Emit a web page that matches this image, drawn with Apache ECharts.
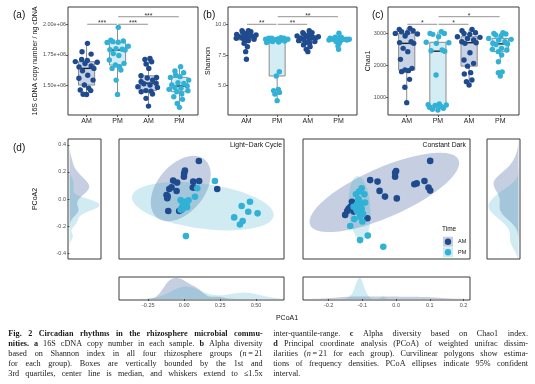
<!DOCTYPE html>
<html><head><meta charset="utf-8">
<script src="https://cdn.jsdelivr.net/npm/echarts@6/dist/echarts.min.js"></script>
<style>html,body{margin:0;padding:0;background:#fff}#c{width:535px;height:384px}</style>
</head><body><div id="c"></div>
<script>
// ---------------- DATA ----------------
const groupLabels = ['AM', 'PM', 'AM', 'PM'];
const conditionLabels = ['Light\u2212Dark Cycle', 'Constant Dark'];
const timeLevels = ['AM', 'PM'];

// (a) 16S cDNA copy number / ng cDNA
const copyAM_LD = [1.843e6,1.775e6,1.756e6,1.712e6,1.705e6,1.695e6,1.690e6,1.680e6,1.660e6,1.652e6,1.640e6,1.620e6,1.585e6,1.560e6,1.545e6,1.505e6,1.480e6,1.465e6,1.460e6,1.430e6,1.428e6];
const copyPM_LD = [1.973e6,1.868e6,1.862e6,1.857e6,1.852e6,1.850e6,1.820e6,1.800e6,1.795e6,1.792e6,1.789e6,1.760e6,1.745e6,1.708e6,1.681e6,1.667e6,1.654e6,1.640e6,1.627e6,1.545e6,1.429e6];
const copyAM_CD = [1.721e6,1.713e6,1.694e6,1.675e6,1.640e6,1.580e6,1.567e6,1.562e6,1.545e6,1.532e6,1.520e6,1.515e6,1.505e6,1.491e6,1.486e6,1.460e6,1.455e6,1.451e6,1.432e6,1.397e6,1.334e6];
const copyPM_CD = [1.654e6,1.619e6,1.605e6,1.586e6,1.573e6,1.567e6,1.545e6,1.524e6,1.518e6,1.505e6,1.497e6,1.486e6,1.478e6,1.470e6,1.459e6,1.451e6,1.432e6,1.410e6,1.389e6,1.356e6,1.324e6];
const copyTicks = [1.5e6, 1.75e6, 2.0e6];
const copySig = [[1,2,'***',1.998e6],[2,3,'***',1.998e6],[2,4,'***',2.059e6]];

// (b) Shannon
const shannonAM_LD = [9.48,9.48,9.40,9.35,9.27,9.18,9.13,9.08,9.05,8.99,8.94,8.90,8.86,8.86,8.78,8.72,8.67,8.45,8.18,7.77,7.15];
const shannonPM_LD = [8.91,8.86,8.86,8.86,8.80,8.78,8.78,8.75,8.72,8.67,8.64,8.59,8.55,8.51,6.14,5.79,4.70,4.60,4.45,4.32,3.78];
const shannonAM_CD = [9.48,9.32,9.32,9.21,9.13,9.05,8.99,8.99,8.94,8.86,8.86,8.78,8.72,8.67,8.59,8.51,8.45,8.32,8.18,7.96,7.77];
const shannonPM_CD = [9.27,8.94,8.94,8.86,8.86,8.86,8.78,8.78,8.78,8.78,8.78,8.78,8.72,8.72,8.72,8.67,8.67,8.59,8.45,8.23,7.96];
const shannonTicks = [5.0, 7.5, 10.0];
const shannonSig = [[1,2,'**',10.0],[2,3,'**',10.0],[2,4,'**',10.62]];

// (c) Chao1
const chaoAM_LD = [3168,3136,3094,3063,3031,3010,2990,2927,2749,2720,2696,2539,2435,2194,1911,1859,1838,1806,1565,1314,832];
const chaoPM_LD = [3063,3010,3010,2979,2906,2730,2717,2696,2487,2466,2450,1702,791,770,759,740,720,686,654,623,600];
const chaoAM_CD = [3136,3094,3031,3010,2979,2906,2885,2853,2801,2749,2717,2696,2403,2173,2068,1980,1775,1733,1545,1492,1387];
const chaoPM_CD = [3031,3010,2990,2958,2927,2853,2822,2801,2749,2700,2680,2660,2539,2508,2487,2435,2330,2120,1800,1775,1670];
const chaoTicks = [1000, 2000, 3000];
const chaoSig = [[1,2,'*',3296],[2,3,'*',3296],[2,4,'*',3535]];

// (d) PCoA (weighted unifrac)
const ldAM_pc1 = [0.102,0.005,-0.002,-0.077,-0.049,0.063,0.104,-0.088,-0.104,-0.053,0.068,-0.123,-0.118,0.230,-0.111,-0.035,-0.018,-0.115,-0.020,0.000,0.060];
const ldAM_pc2 = [0.281,0.210,0.165,0.136,0.121,0.128,0.133,0.086,0.074,0.059,0.084,0.030,0.005,0.074,-0.089,-0.089,-0.074,0.020,-0.080,0.190,0.085];
const ldPM_pc1 = [0.214,0.091,0.075,-0.025,-0.007,0.005,-0.011,-0.025,0.017,0.458,0.400,0.446,0.511,0.348,0.407,0.388,0.012,0.000,0.020,-0.010,0.030];
const ldPM_pc2 = [0.133,0.079,0.017,-0.007,-0.032,-0.057,-0.074,-0.080,-0.044,-0.020,-0.052,-0.094,-0.106,-0.136,-0.163,-0.188,-0.274,-0.020,-0.060,-0.045,-0.010];
const cdAM_pc1 = [0.101,0.000,-0.003,-0.077,-0.055,0.054,0.061,0.084,0.096,0.101,-0.049,-0.033,0.002,-0.131,-0.141,-0.151,-0.085,-0.136,-0.126,-0.003,-0.145];
const cdAM_pc2 = [0.127,0.093,0.074,0.063,0.058,0.049,0.052,0.060,0.038,0.028,0.027,0.008,0.002,-0.009,-0.033,-0.053,-0.064,-0.027,-0.042,0.087,-0.040];
const cdPM_pc1 = [-0.102,-0.119,-0.094,-0.112,-0.092,-0.126,-0.102,-0.115,-0.107,-0.124,-0.136,-0.084,-0.107,-0.038,-0.116,-0.110,-0.105,-0.118,-0.098,-0.110,-0.100];
const cdPM_pc2 = [0.036,0.016,0.016,0.000,-0.012,-0.026,-0.033,-0.042,-0.059,-0.067,-0.090,-0.122,-0.137,-0.159,-0.018,-0.005,-0.020,-0.035,-0.050,0.025,-0.075];
const pc2TicksLD = [-0.4,-0.2,0,0.2,0.4];
const pc1TicksLD = [-0.25,0,0.25,0.5];
const pc1TicksCD = [-0.2,-0.1,0,0.1,0.2];

const captionLeft = [
  "**Fig. 2 Circadian rhythms in the rhizosphere microbial commu-**",
  "**nities. a** 16S cDNA copy number in each sample. **b** Alpha diversity",
  "based on Shannon index in all four rhizosphere groups (_n_\u2009=\u200921",
  "for each group). Boxes are vertically bounded by the 1st and",
  "3rd quartiles, center line is median, and whiskers extend to \u22641.5x"
];
const captionRight = [
  "inter-quantile-range. **c** Alpha diversity based on Chao1 index.",
  "**d** Principal coordinate analysis (PCoA) of weighted unifrac dissim-",
  "ilarities (_n_\u2009=\u200921 for each group). Curvilinear polygons show estima-",
  "tions of frequency densities. PCoA ellipses indicate 95% confident",
  "interval."
];

// ---------------- STYLE / LAYOUT ----------------
const FONT = 'Liberation Sans';
const SERIF = 'Liberation Serif';
const COL = {AM:'#1f4b8e', PM:'#31b1d6'};
const BOXFILL = {AM:'#c9d3e6', PM:'#d4ecf3'};
const AREA = {AM:'rgba(30,70,140,0.26)', PM:'rgba(60,170,200,0.24)'};
const G = {
  a:{left:68,top:7,width:130,height:108},
  b:{left:228,top:7,width:129,height:108},
  c:{left:388,top:7,width:131,height:108},
  dl:{left:68,top:139,width:33,height:120},
  sld:{left:119,top:139,width:165,height:120},
  scd:{left:303,top:139,width:167,height:120},
  dr:{left:487,top:139,width:33,height:120},
  bld:{left:119,top:277,width:165,height:23},
  bcd:{left:303,top:277,width:167,height:23}
};
const RANGE = {
  a:[1.262e6,2.138e6], b:[2.61,11.41], c:[443,3840],
  ldx:[-0.454,0.695], ldy:[-0.443,0.443], cdx:[-0.276,0.219], cdy:[-0.2,0.2]
};

// ---------------- HELPERS ----------------
const mean = a => a.reduce((s,v)=>s+v,0)/a.length;
function q7(a,p){const s=[...a].sort((x,y)=>x-y);const h=(s.length-1)*p;const lo=Math.floor(h);const hi=Math.min(lo+1,s.length-1);return s[lo]+(h-lo)*(s[hi]-s[lo]);}
function boxStats(a){const q1=q7(a,.25),md=q7(a,.5),q3=q7(a,.75),iqr=q3-q1;
  const lo=Math.min(...a.filter(v=>v>=q1-1.5*iqr)),hi=Math.max(...a.filter(v=>v<=q3+1.5*iqr));return [lo,q1,md,q3,hi];}
function sd(a){const m=mean(a);return Math.sqrt(a.reduce((s,v)=>s+(v-m)**2,0)/(a.length-1));}
function bwNrd0(a){const h=sd(a);let lo=Math.min(h,(q7(a,.75)-q7(a,.25))/1.34);if(!(lo>0))lo=h||1;return 0.9*lo*Math.pow(a.length,-0.2);}
function kdeAt(a,bw,x){let s=0;for(const v of a){const z=(x-v)/bw;s+=Math.exp(-0.5*z*z);}return s/(a.length*bw*Math.sqrt(2*Math.PI));}
function kde(a,from,to,n){const bw=bwNrd0(a);const out=[];for(let i=0;i<n;i++){const x=from+(to-from)*i/(n-1);out.push([x,kdeAt(a,bw,x)]);}return out;}
function covTrob(xs,ys,nu=5,maxit=25,tol=0.01){
  const n=xs.length,p=2;let lx=mean(xs),ly=mean(ys);let w=new Array(n).fill(1);let X=null;
  for(let it=0;it<maxit;it++){
    const w0=w.slice();X=xs.map((x,i)=>[x-lx,ys[i]-ly]);
    const sw=w.reduce((s,v)=>s+v,0);let a=0,b=0,d=0;
    for(let i=0;i<n;i++){const f=w[i]/sw;a+=f*X[i][0]*X[i][0];b+=f*X[i][0]*X[i][1];d+=f*X[i][1]*X[i][1];}
    const det=a*d-b*b;
    w=X.map(([u,v])=>(nu+p)/(nu+(d*u*u-2*b*u*v+a*v*v)/det));
    const sw2=w.reduce((s,v)=>s+v,0);
    lx=xs.reduce((s,v,i)=>s+w[i]*v,0)/sw2;ly=ys.reduce((s,v,i)=>s+w[i]*v,0)/sw2;
    if(w.every((v,i)=>Math.abs(v-w0[i])<tol))break;
  }
  let a=0,b=0,d=0;for(let i=0;i<n;i++){a+=w[i]*X[i][0]*X[i][0];b+=w[i]*X[i][0]*X[i][1];d+=w[i]*X[i][1]*X[i][1];}
  return {c:[lx,ly],cov:[a/n,b/n,d/n]};
}
function ellipse95(xs,ys){
  const {c,cov:[a,b,d]}=covTrob(xs,ys);const n=xs.length,m=n-1;
  const f=(m/2)*(Math.pow(0.05,-2/m)-1); // qf(0.95, 2, m)
  const r=Math.sqrt(2*f);const r11=Math.sqrt(a),r12=b/r11,r22=Math.sqrt(Math.max(d-r12*r12,1e-12));
  const pts=[];for(let k=0;k<=51;k++){const t=2*Math.PI*k/51;pts.push([c[0]+r*Math.cos(t)*r11,c[1]+r*(Math.cos(t)*r12+Math.sin(t)*r22)]);}
  return pts;
}
// quasirandom (van der Corput) offsets, as geom_quasirandom
function vdc(n){const out=[];for(let i=1;i<=n;i++){let x=0,f=0.5,k=i;while(k>0){x+=f*(k%2);k=Math.floor(k/2);f/=2;}out.push(x);}return out;}
function quasirandom(vals,width){
  const n=vals.length,bw=bwNrd0(vals);
  const lo=Math.min(...vals)-3*bw,hi=Math.max(...vals)+3*bw;let M=0;
  for(let i=0;i<512;i++){M=Math.max(M,kdeAt(vals,bw,lo+(hi-lo)*i/511));}
  const order=vals.map((v,i)=>i).sort((i,j)=>vals[i]-vals[j]||i-j);const rank=new Array(n);order.forEach((idx,r)=>rank[idx]=r);
  const seq=vdc(n);
  return vals.map((v,i)=>(seq[rank[i]]-0.5)*2*width*kdeAt(vals,bw,v)/M);
}

// ---------------- BUILD ----------------
const grids=[G.a,G.b,G.c,G.dl,G.sld,G.scd,G.dr,G.bld,G.bcd].map(g=>Object.assign({show:true,borderColor:'#3a3a3a',borderWidth:1,backgroundColor:'transparent'},g));
const xAxis=[],yAxis=[],series=[];
const tickStyle={show:true,length:2,lineStyle:{color:'#333',width:0.8}};
const labStyle={fontSize:5.5,color:'#4d4d4d',margin:2,fontFamily:FONT};
function axis(gi,min,max,ticks,fmt,extra){
  const o={type:'value',gridIndex:gi,min,max,axisLine:{show:false},splitLine:{show:false},
    axisTick:ticks?Object.assign({customValues:ticks},tickStyle):{show:false},
    axisLabel:ticks?Object.assign({show:true,customValues:ticks,formatter:fmt},labStyle):{show:false}};
  return Object.assign(o,extra||{});
}

const boxPanels=[
  {gi:0,key:'a',groups:[copyAM_LD,copyPM_LD,copyAM_CD,copyPM_CD],ticks:copyTicks,fmt:v=>(v/1e6).toFixed(2)+'e+06',sig:copySig},
  {gi:1,key:'b',groups:[shannonAM_LD,shannonPM_LD,shannonAM_CD,shannonPM_CD],ticks:shannonTicks,fmt:v=>v.toFixed(1),sig:shannonSig},
  {gi:2,key:'c',groups:[chaoAM_LD,chaoPM_LD,chaoAM_CD,chaoPM_CD],ticks:chaoTicks,fmt:v=>String(v),sig:chaoSig}
];
boxPanels.forEach(P=>{
  const yr=RANGE[P.key];
  xAxis[P.gi]=axis(P.gi,0.4,4.6,[1,2,3,4],v=>groupLabels[Math.round(v)-1]);
  xAxis[P.gi].axisLabel=Object.assign({},xAxis[P.gi].axisLabel,{fontSize:7,color:'#222',margin:3});
  yAxis[P.gi]=axis(P.gi,yr[0],yr[1],P.ticks,P.fmt);
  const stats=P.groups.map(boxStats);
  series.push({type:'custom',xAxisIndex:P.gi,yAxisIndex:P.gi,silent:true,
    data:stats.map((s,i)=>[i+1].concat(s)),
    renderItem(params,api){
      const x=api.value(0),lab=groupLabels[params.dataIndex];
      const pLo=api.coord([x,api.value(1)]),pQ1=api.coord([x,api.value(2)]),pMd=api.coord([x,api.value(3)]),pQ3=api.coord([x,api.value(4)]),pHi=api.coord([x,api.value(5)]);
      const half=api.size([0.26,0])[0];
      const st={stroke:'#8c8c8c',lineWidth:1};
      return {type:'group',children:[
        {type:'line',shape:{x1:pLo[0],y1:pLo[1],x2:pQ1[0],y2:pQ1[1]},style:st},
        {type:'line',shape:{x1:pQ3[0],y1:pQ3[1],x2:pHi[0],y2:pHi[1]},style:st},
        {type:'rect',shape:{x:pMd[0]-half,y:pQ3[1],width:2*half,height:pQ1[1]-pQ3[1]},style:{fill:BOXFILL[lab],stroke:'#8c8c8c',lineWidth:1}},
        {type:'line',shape:{x1:pMd[0]-half,y1:pMd[1],x2:pMd[0]+half,y2:pMd[1]},style:{stroke:'#222',lineWidth:1.4}}
      ]};
    }});
  P.groups.forEach((vals,i)=>{
    const off=quasirandom(vals,0.4);
    series.push({type:'scatter',xAxisIndex:P.gi,yAxisIndex:P.gi,silent:true,symbolSize:5.4,
      itemStyle:{color:COL[groupLabels[i]],opacity:1},
      data:vals.map((v,k)=>[i+1+off[k],v])});
  });
  series.push({type:'custom',xAxisIndex:P.gi,yAxisIndex:P.gi,silent:true,
    data:P.sig.map(s=>[s[0],s[3]]),
    renderItem(params,api){const s=P.sig[params.dataIndex];
      const p1=api.coord([s[0]+0.02,s[3]]),p2=api.coord([s[1]-0.02,s[3]]);
      return {type:'group',children:[
        {type:'line',shape:{x1:p1[0],y1:p1[1],x2:p2[0],y2:p2[1]},style:{stroke:'#777',lineWidth:0.8}},
        {type:'text',x:(p1[0]+p2[0])/2,y:p1[1]-0.8,style:{text:s[2],fontSize:7,fontFamily:FONT,fill:'#333',align:'center',verticalAlign:'middle'}}]};
    }});
});
// condition label axes
[0,1,2].forEach(gi=>{
  xAxis.push({type:'value',gridIndex:gi,min:0.4,max:4.6,position:'bottom',offset:10,axisLine:{show:false},axisTick:{show:false},splitLine:{show:false},
    axisLabel:{show:true,customValues:[1.5,3.5],formatter:v=>conditionLabels[v<2?0:1],fontSize:7,color:'#222',margin:3,fontFamily:FONT}});
});

// PCoA panels
const pcoa=[
  {gi:4,AM:[ldAM_pc1,ldAM_pc2],PM:[ldPM_pc1,ldPM_pc2]},
  {gi:5,AM:[cdAM_pc1,cdAM_pc2],PM:[cdPM_pc1,cdPM_pc2]}
];
xAxis[4]=axis(4,RANGE.ldx[0],RANGE.ldx[1]);yAxis[4]=axis(4,RANGE.ldy[0],RANGE.ldy[1]);
xAxis[5]=axis(5,RANGE.cdx[0],RANGE.cdx[1]);yAxis[5]=axis(5,RANGE.cdy[0],RANGE.cdy[1]);
function polySeries(gi,pts,fill){
  return {type:'custom',xAxisIndex:gi,yAxisIndex:gi,silent:true,clip:true,data:[[pts[0][0],pts[0][1]]],
    renderItem(params,api){return {type:'polygon',shape:{points:pts.map(p=>api.coord(p))},style:{fill}};}};
}
pcoa.forEach(P=>{
  timeLevels.forEach(t=>series.push(polySeries(P.gi,ellipse95(P[t][0],P[t][1]),AREA[t])));
  timeLevels.forEach(t=>series.push({type:'scatter',xAxisIndex:P.gi,yAxisIndex:P.gi,silent:true,symbolSize:6.6,
    itemStyle:{color:COL[t],opacity:1},data:P[t][0].map((x,i)=>[x,P[t][1][i]])}));
});

// Densities
function densities(a1,a2,range){const d1=kde(a1,range[0],range[1],200),d2=kde(a2,range[0],range[1],200);
  const M=Math.max(...d1.map(p=>p[1]),...d2.map(p=>p[1]));return {d1,d2,M};}
{const D=densities(ldAM_pc2,ldPM_pc2,RANGE.ldy);
 xAxis[3]=axis(3,-0.05*D.M,1.05*D.M);
 yAxis[3]=axis(3,RANGE.ldy[0],RANGE.ldy[1],pc2TicksLD,v=>v.toFixed(1));
 [[D.d1,'AM'],[D.d2,'PM']].forEach(([d,t])=>series.push(polySeries(3,[[0,d[0][0]]].concat(d.map(p=>[p[1],p[0]])).concat([[0,d[d.length-1][0]]]),AREA[t])));}
{const D=densities(cdAM_pc2,cdPM_pc2,RANGE.cdy);
 xAxis[6]=axis(6,-0.05*D.M,1.05*D.M,null,null,{inverse:true});
 yAxis[6]=axis(6,RANGE.cdy[0],RANGE.cdy[1]);
 [[D.d1,'AM'],[D.d2,'PM']].forEach(([d,t])=>series.push(polySeries(6,[[0,d[0][0]]].concat(d.map(p=>[p[1],p[0]])).concat([[0,d[d.length-1][0]]]),AREA[t])));}
{const D=densities(ldAM_pc1,ldPM_pc1,RANGE.ldx);
 xAxis[7]=axis(7,RANGE.ldx[0],RANGE.ldx[1],pc1TicksLD,v=>v.toFixed(2));
 yAxis[7]=axis(7,-0.05*D.M,1.05*D.M);
 [[D.d1,'AM'],[D.d2,'PM']].forEach(([d,t])=>series.push(polySeries(7,[[d[0][0],0]].concat(d).concat([[d[d.length-1][0],0]]),AREA[t])));}
{const D=densities(cdAM_pc1,cdPM_pc1,RANGE.cdx);
 xAxis[8]=axis(8,RANGE.cdx[0],RANGE.cdx[1],pc1TicksCD,v=>v.toFixed(1));
 yAxis[8]=axis(8,-0.05*D.M,1.05*D.M);
 [[D.d1,'AM'],[D.d2,'PM']].forEach(([d,t])=>series.push(polySeries(8,[[d[0][0],0]].concat(d).concat([[d[d.length-1][0],0]]),AREA[t])));}

// ---------------- TEXT ----------------
const gfx=[];
function txt(text,x,y,o){gfx.push({type:'text',x,y,rotation:(o&&o.rot)||0,silent:true,
  style:Object.assign({text,fontSize:7,fontFamily:FONT,fill:'#111',align:'center',verticalAlign:'middle'},o&&o.style||{})});}
txt('(a)',13,15,{style:{fontSize:10,align:'left'}});
txt('(b)',203,15,{style:{fontSize:10,align:'left'}});
txt('(c)',372,15,{style:{fontSize:10,align:'left'}});
txt('(d)',13,148,{style:{fontSize:10,align:'left'}});
txt('16S cDNA copy number / ng cDNA',35,61,{rot:Math.PI/2});
txt('Shannon',208,61,{rot:Math.PI/2});
txt('Chao1',368,61,{rot:Math.PI/2});
txt('PCoA2',35,199,{rot:Math.PI/2});
txt('PCoA1',287,318);
txt(conditionLabels[0],282,145,{style:{align:'right',fontSize:6.8}});
txt(conditionLabels[1],466,145,{style:{align:'right',fontSize:6.8}});
txt('Time',442,229,{style:{align:'left',fontSize:6.5}});
timeLevels.forEach((t,i)=>{
  const cy=241.7+i*10.6;
  gfx.push({type:'rect',silent:true,shape:{x:443,y:cy-5,width:10,height:10},style:{fill:AREA[t]}});
  gfx.push({type:'circle',silent:true,shape:{cx:448,cy,r:3.2},style:{fill:COL[t]}});
  txt(t,458,cy,{style:{align:'left',fontSize:5.5}});
});
const CAP_SIZE=8.2;
const mctx=document.createElement('canvas').getContext('2d');
function parseLine(str){const words=[];let bold=false,ital=false,cur=[],buf='';
  const flush=()=>{if(buf){cur.push({t:buf,b:bold,i:ital});buf='';}};
  for(let k=0;k<str.length;k++){
    if(str.startsWith('**',k)){flush();bold=!bold;k++;continue;}
    const ch=str[k];
    if(ch==='_'){flush();ital=!ital;continue;}
    if(ch===' '){flush();if(cur.length)words.push(cur);cur=[];continue;}
    buf+=ch;}
  flush();if(cur.length)words.push(cur);return words;}
function segW(s){mctx.font=(s.i?'italic ':'')+(s.b?'bold ':'')+CAP_SIZE+'px "'+SERIF+'"';return mctx.measureText(s.t).width;}
function caption(lines,x0,x1,y0,lh,lastFree){
  mctx.font=CAP_SIZE+'px "'+SERIF+'"';const space=mctx.measureText(' ').width;
  lines.forEach((line,li)=>{
    const words=parseLine(line);const widths=words.map(w=>w.reduce((s,seg)=>s+segW(seg),0));
    const total=widths.reduce((s,v)=>s+v,0);const last=lastFree&&li===lines.length-1;
    const gap=(last||words.length<2)?space:Math.max(1,(x1-x0-total)/(words.length-1));
    let x=x0;const y=y0+li*lh;
    words.forEach((w,wi)=>{let xx=x;w.forEach(seg=>{
        gfx.push({type:'text',x:xx,y,silent:true,style:{text:seg.t,fontSize:CAP_SIZE,fontFamily:SERIF,fontWeight:seg.b?'bold':'normal',fontStyle:seg.i?'italic':'normal',fill:'#1a1a1a',align:'left',verticalAlign:'middle'}});
        xx+=segW(seg);});
      x+=widths[wi]+gap;});
  });
}
caption(captionLeft,8.3,262.7,333.8,9.95,false);
caption(captionRight,273.3,528,333.8,9.95,true);

const chart=echarts.init(document.getElementById('c'),null,{renderer:'canvas'});
chart.setOption({animation:false,backgroundColor:'#fff',grid:grids,xAxis,yAxis,series,graphic:{elements:gfx}});
</script></body></html>
